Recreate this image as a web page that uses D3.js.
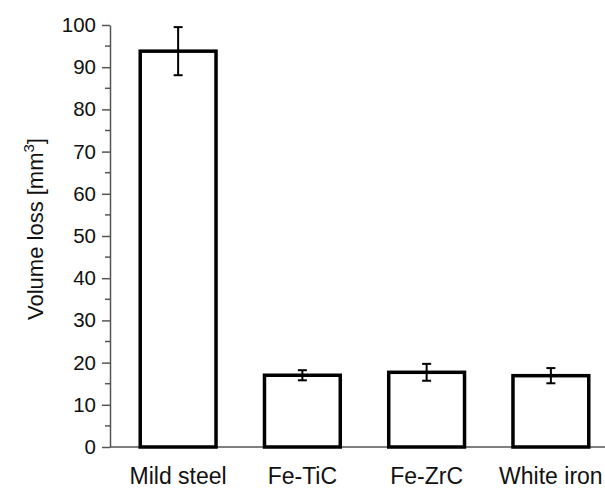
<!DOCTYPE html>
<html>
<head>
<meta charset="utf-8">
<script src="https://cdn.jsdelivr.net/npm/d3@7"></script>
<style>
  body { margin: 0; background: #fff; }
  text { font-family: "Liberation Sans", Arial, sans-serif; fill: #111; }
</style>
</head>
<body>
<div id="chart"></div>
<script>
// Data
var materials = ["Mild steel", "Fe-TiC", "Fe-ZrC", "White iron"];
var volumeLoss = [93.8, 17.0, 17.7, 16.9];
var errors = [5.7, 1.2, 2.0, 1.8];
var yTicks = [0, 10, 20, 30, 40, 50, 60, 70, 80, 90, 100];

var width = 605, height = 490;

var svg = d3.select("#chart")
    .append("svg")
    .attr("width", width)
    .attr("height", height);

var x = d3.scaleBand()
    .domain(materials)
    .range([116, 613])
    .paddingInner(0.39)
    .paddingOuter(0.195);

var y = d3.scaleLinear()
    .domain([0, 100])
    .range([447, 25]);

var data = materials.map(function(m, i) {
    return { name: m, value: volumeLoss[i], err: errors[i] };
});

// y axis
var yAxis = svg.append("g")
    .attr("transform", "translate(110,0)")
    .call(d3.axisLeft(y).tickValues(yTicks).tickSize(8).tickSizeOuter(0));
yAxis.select(".domain").attr("stroke", "#555").attr("stroke-width", 1.5);
yAxis.selectAll(".tick line").attr("stroke", "#555").attr("stroke-width", 1.5);
yAxis.selectAll(".tick text")
    .attr("x", -14)
    .style("font-size", "20.5px")
    .style("font-family", "Liberation Sans, Arial, sans-serif")
    .attr("fill", "#111");

// minor ticks
yAxis.selectAll(".minor")
    .data(d3.range(5, 100, 10))
    .enter().append("line")
    .attr("class", "minor")
    .attr("x1", -5).attr("x2", 0)
    .attr("y1", function(d) { return y(d); })
    .attr("y2", function(d) { return y(d); })
    .attr("stroke", "#555")
    .attr("stroke-width", 1.5);

// x axis line
svg.append("line")
    .attr("x1", 110).attr("x2", width)
    .attr("y1", y(0)).attr("y2", y(0))
    .attr("stroke", "#555")
    .attr("stroke-width", 1.5);

// bars
svg.append("g")
    .selectAll("rect")
    .data(data)
    .enter().append("rect")
    .attr("x", function(d) { return x(d.name); })
    .attr("y", function(d) { return y(d.value); })
    .attr("width", x.bandwidth())
    .attr("height", function(d) { return y(0) - y(d.value); })
    .attr("fill", "#fff")
    .attr("stroke", "#000")
    .attr("stroke-width", 3.5);

// error bars
var eb = svg.append("g")
    .selectAll("g")
    .data(data)
    .enter().append("g")
    .attr("transform", function(d) { return "translate(" + (x(d.name) + x.bandwidth() / 2) + ",0)"; });

eb.append("line")
    .attr("y1", function(d) { return y(d.value + d.err); })
    .attr("y2", function(d) { return y(d.value - d.err); })
    .attr("stroke", "#000").attr("stroke-width", 2);
eb.append("line")
    .attr("x1", -4.5).attr("x2", 4.5)
    .attr("y1", function(d) { return y(d.value + d.err); })
    .attr("y2", function(d) { return y(d.value + d.err); })
    .attr("stroke", "#000").attr("stroke-width", 2);
eb.append("line")
    .attr("x1", -4.5).attr("x2", 4.5)
    .attr("y1", function(d) { return y(d.value - d.err); })
    .attr("y2", function(d) { return y(d.value - d.err); })
    .attr("stroke", "#000").attr("stroke-width", 2);

// category labels
svg.append("g")
    .selectAll("text")
    .data(materials)
    .enter().append("text")
    .attr("x", function(d) { return x(d) + x.bandwidth() / 2; })
    .attr("y", 484)
    .attr("text-anchor", "middle")
    .style("font-size", "23px")
    .text(function(d) { return d; });

// y axis title
var title = svg.append("text")
    .attr("transform", "translate(43,229) rotate(-90)")
    .attr("text-anchor", "middle")
    .style("font-size", "22px");
title.append("tspan").text("Volume loss [mm");
title.append("tspan").attr("dy", -9).style("font-size", "15px").text("3");
title.append("tspan").attr("dy", 9).text("]");
</script>
</body>
</html>
